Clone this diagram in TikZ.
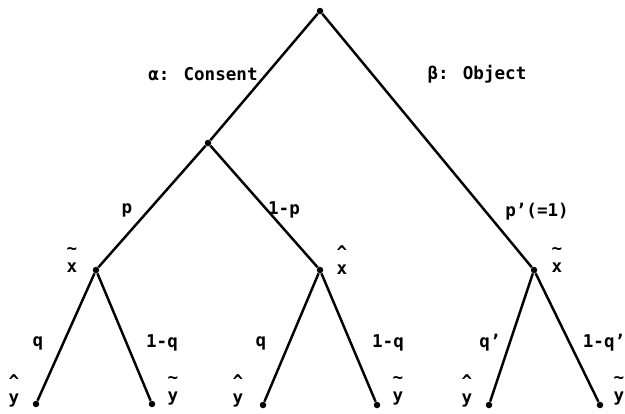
\documentclass[tikz,border=0pt]{standalone}
\usepackage{fontspec}
\setmainfont{DejaVu Sans Mono}
\usetikzlibrary{positioning}

\begin{document}
\begin{tikzpicture}[x=0.02cm, y=-0.02cm, font=\bfseries,
    dot/.style={circle, fill, inner sep=0pt, minimum size=0.13cm},
    lab/.style={inner sep=0pt, font=\bfseries},
    tilded/.style={lab, align=center},
    hatted/.style={lab, align=center},
    branch/.style={line width=1.4pt}]
  \useasboundingbox (0,0) rectangle (625,413);

  \node[dot] (root) at (320,11)  {};
  \node[dot] (cons) at (208,143) {};
  \node[dot] (xa)   at (96,270)  {};
  \node[dot] (xb)   at (320,270) {};
  \node[dot] (xc)   at (534,270) {};
  \node[dot] (y1)   at (36,404)  {};
  \node[dot] (y2)   at (152,404) {};
  \node[dot] (y3)   at (263,405) {};
  \node[dot] (y4)   at (377,405) {};
  \node[dot] (y5)   at (489,405) {};
  \node[dot] (y6)   at (600,405) {};

  % first move: consent or object
  \draw[branch] (root) -- (cons);
  \draw[branch] (root) -- (xc);
  \node[lab] (alpha) at (203,74) {α: Consent};
  \node[lab] (beta)  at (477,74) {β: Object};

  % second move
  \draw[branch] (cons) -- (xa);
  \draw[branch] (cons) -- (xb);
  \node[lab] (p)  at (127,210) {p};
  \node[lab] (np) at (284,210) {1-p};
  \node[lab] (pp) at (537,212) {p'(=1)};

  % states
  \node[tilded] (sa) at (72,260)  {\textasciitilde\\[-2pt]x};
  \node[hatted] (sb) at (342,260) {\textasciicircum\\[-3pt]x};
  \node[tilded] (sc) at (557,260) {\textasciitilde\\[-2pt]x};

  % last move
  \draw[branch] (xa) -- (y1);
  \draw[branch] (xa) -- (y2);
  \draw[branch] (xb) -- (y3);
  \draw[branch] (xb) -- (y4);
  \draw[branch] (xc) -- (y5);
  \draw[branch] (xc) -- (y6);
  \node[lab] (q1)  at (38,343)  {q};
  \node[lab] (nq1) at (162,343) {1-q};
  \node[lab] (q2)  at (261,343) {q};
  \node[lab] (nq2) at (388,343) {1-q};
  \node[lab] (q3)  at (490,343) {q'};
  \node[lab] (nq3) at (604,343) {1-q'};

  % outcomes
  \node[hatted] (o1) at (14,391)  {\textasciicircum\\[-3pt]y};
  \node[tilded] (o2) at (173,391) {\textasciitilde\\[-2pt]y};
  \node[hatted] (o3) at (238,391) {\textasciicircum\\[-3pt]y};
  \node[tilded] (o4) at (398,391) {\textasciitilde\\[-2pt]y};
  \node[hatted] (o5) at (467,391) {\textasciicircum\\[-3pt]y};
  \node[tilded] (o6) at (619,391) {\textasciitilde\\[-2pt]y};
\end{tikzpicture}
\end{document}
